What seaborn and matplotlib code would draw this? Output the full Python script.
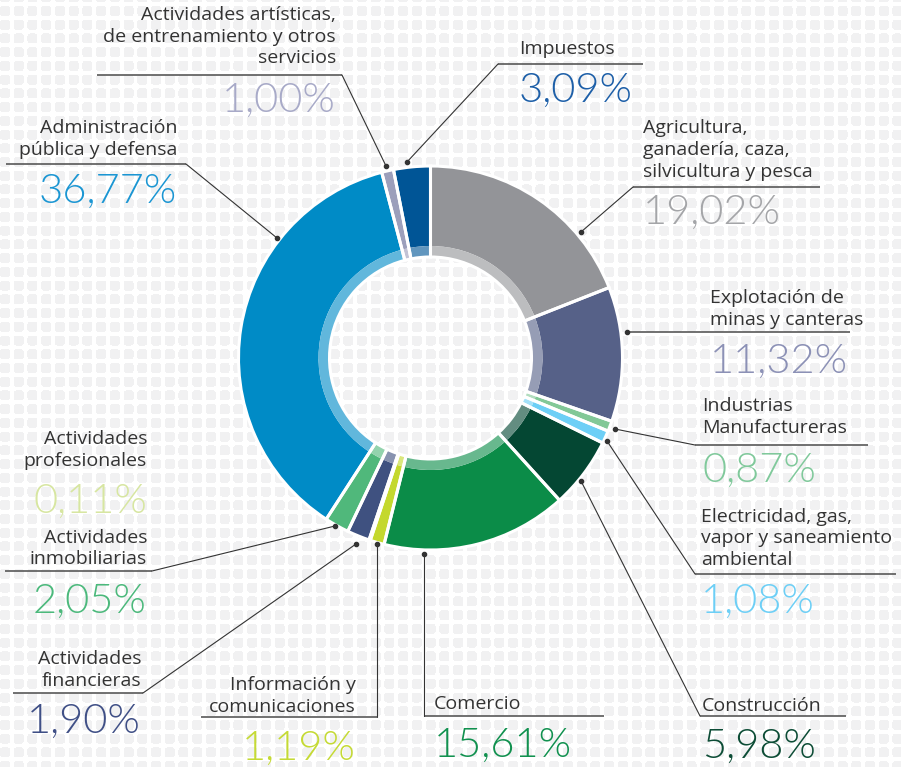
import numpy as np
import matplotlib.pyplot as plt
import seaborn as sns
from matplotlib.colors import to_rgb

# data, clockwise from 12 o'clock
sectors = [
    'Agricultura,\nganadería, caza,\nsilvicultura y pesca',
    'Explotación de\nminas y canteras',
    'Industrias\nManufactureras',
    'Electricidad, gas,\nvapor y saneamiento\nambiental',
    'Construcción',
    'Comercio',
    'Información y\ncomunicaciones',
    'Actividades\nprofesionales',
    'Actividades\nfinancieras',
    'Actividades\ninmobiliarias',
    'Administración\npública y defensa',
    'Actividades artísticas,\nde entrenamiento y otros\nservicios',
    'Impuestos',
]
shares = [19.02, 11.32, 0.87, 1.08, 5.98, 15.61, 1.19, 0.11, 1.90, 2.05, 36.77, 1.00, 3.09]
wedge_colors = ['#939498', '#566188', '#82c897', '#6dcff6', '#044733', '#0b8c48', '#c4d82e',
                '#d6e59c', '#3f5180', '#50b87b', '#008bc6', '#9c9fbb', '#005596']
pct_colors = ['#a4a5a8', '#8c91b6', '#80c99b', '#6dcff6', '#0d4d36', '#11914f', '#c5da35',
              '#d7e6a1', '#3f4f86', '#4cb97c', '#1b96d3', '#a8aac8', '#1d5fa8']

# label layout in pixels (y down): text x, align, last name baseline, pct baseline,
# underline (y, x0, x1) and leader end point on the ring
layout = [
    (643, 'left', 176.7, 224, (187, 633, 820), (581, 232)),
    (710, 'left', 325, 373, (332, 627, 850), None),
    (702, 'left', 433, 482, (445, 695, 868), (615, 429)),
    (701, 'left', 565, 613, (574, 695, 896), (607, 441)),
    (702, 'left', 711, 758, (716, 700, 846), (581, 481)),
    (434, 'left', 709, 757, (716, 424, 604), (424, 554)),
    (356, 'right', 711.7, 760, (717, 201, 377), (377, 544)),
    (147, 'right', 466, 513, None, None),
    (141, 'right', 685.7, 733, (693, 13, 143), (356, 544)),
    (147, 'right', 564.3, 613, (571, 5, 152), (335, 526)),
    (177, 'right', 155, 203, (164, 6, 186), (277, 238)),
    (336, 'right', 63.3, 111.7, (75, 97, 342), (386, 166)),
    (519, 'left', 54.3, 101.7, (64, 498, 643), (407, 162)),
]

W, H = 901, 767
CX, CY, R = 430.5, 358, 192

sns.set_theme(style='white')
plt.rcParams['font.family'] = ['Open Sans', 'DejaVu Sans']

# tiled background of rounded squares
pitch, side, rad = 13.73, 10.0, 2.5
yy, xx = np.mgrid[0:H, 0:W] + 0.5
fx = xx % pitch
fy = (yy - 6.0) % pitch
dx = np.maximum(np.maximum(rad - fx, fx - (side - rad)), 0)
dy = np.maximum(np.maximum(rad - fy, fy - (side - rad)), 0)
inside = (fx < side) & (fy < side) & (dx ** 2 + dy ** 2 <= rad ** 2)
bg = np.ones((H, W, 3))
bg[inside] = to_rgb('#f1f1f2')

fig = plt.figure(figsize=(W / 100, H / 100), dpi=100)
ax = fig.add_axes([0, 0, 1, 1])
ax.imshow(bg, extent=(0, W, H, 0), origin='upper', zorder=0, interpolation='nearest')

inner_colors = [tuple(0.62 * c + 0.38 for c in to_rgb(col)) for col in wedge_colors]

# y axis runs downwards, so counterclock=True draws clockwise on screen
pie_kw = dict(center=(CX, CY), startangle=-90, counterclock=True)
ax.pie(shares, colors=wedge_colors, radius=R, wedgeprops=dict(width=80, linewidth=0), **pie_kw)
ax.pie(shares, colors=inner_colors, radius=112, wedgeprops=dict(width=11, linewidth=0), **pie_kw)
ax.pie(shares, radius=R, wedgeprops=dict(width=91, facecolor='none', edgecolor='white',
                                         linewidth=2.2), **pie_kw)

for name, val, pcol, (tx, ha, nb, pb, uline, dot) in zip(sectors, shares, pct_colors, layout):
    lines = name.split('\n')
    for i, ln in enumerate(lines):
        y = nb - 21.7 * (len(lines) - 1 - i)
        ax.text(tx, y, ln, ha=ha, va='baseline', fontsize=14, color='#333333')
    ax.text(tx, pb, f'{val:.2f}%'.replace('.', ','), ha=ha, va='baseline',
            fontsize=30, color=pcol, family=['Lato', 'DejaVu Sans'], fontweight=300)
    if uline is not None:
        ly, x0, x1 = uline
        ax.plot([x0, x1], [ly, ly], color='#4a4a4a', lw=1.1, solid_capstyle='butt')
        if dot is None:
            ax.plot([x0], [ly], 'o', color='#333333', ms=3)
        else:
            sx = x0 if ha == 'left' else x1
            ax.plot([sx, dot[0]], [ly, dot[1]], color='#333333', lw=0.8)
            ax.plot([dot[0]], [dot[1]], 'o', color='#333333', ms=3)

ax.set_xlim(0, W)
ax.set_ylim(H, 0)
ax.set_aspect('equal')
ax.axis('off')

fig.savefig('out.png', dpi=100)
